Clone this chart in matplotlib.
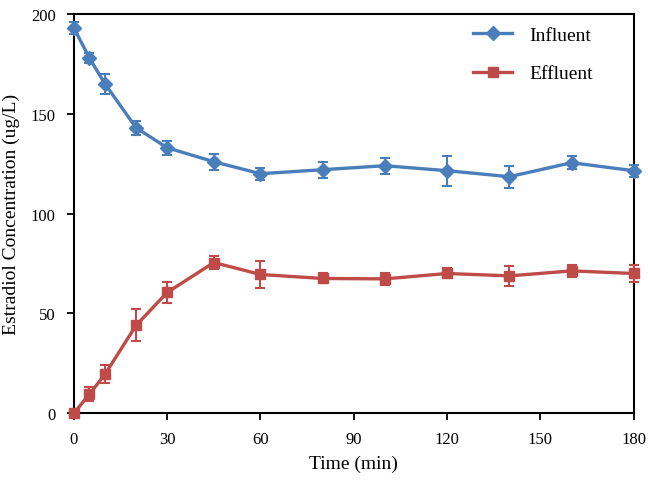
import matplotlib
matplotlib.use("Agg")
import matplotlib.pyplot as plt
from matplotlib.lines import Line2D

time_min = [0, 5, 10, 20, 30, 45, 60, 80, 100, 120, 140, 160, 180]
influent = [193, 178, 165, 143, 133, 126, 120, 122, 124, 121.5, 118.5, 125.5, 121.5]
influent_err = [3, 2.5, 5, 3.5, 3.5, 4, 3, 4, 4, 7.5, 5.5, 3.3, 3]
effluent = [0, 9.5, 19.5, 44, 60.5, 75.5, 69.5, 67.5, 67.3, 70, 68.8, 71.3, 70]
effluent_err = [1, 3.5, 4.5, 8, 5.4, 3.3, 6.8, 2.5, 3, 2.5, 5, 3, 4.5]
x_ticks = [0, 30, 60, 90, 120, 150, 180]
y_ticks = [0, 50, 100, 150, 200]

plt.rcParams['font.family'] = ['Liberation Serif', 'DejaVu Serif']

fig = plt.figure(figsize=(6.48, 4.85), dpi=100)
ax = fig.add_axes([0.114, 0.146, 0.864, 0.823])

blue = '#4A7EBB'
red = '#BE4B48'

ax.errorbar(time_min, influent, yerr=influent_err, color=blue, marker='D',
            markersize=7, linewidth=2.4, elinewidth=1.5, capsize=3.5, capthick=1.5,
            clip_on=False, zorder=3)
ax.errorbar(time_min, effluent, yerr=effluent_err, color=red, marker='s',
            markersize=7.5, linewidth=2.4, elinewidth=1.5, capsize=3.5, capthick=1.5,
            clip_on=False, zorder=3)

ax.set_xlim(0, 180)
ax.set_ylim(0, 200)
ax.set_xticks(x_ticks)
ax.set_yticks(y_ticks)
ax.tick_params(direction='out', length=5, width=1.3, labelsize=12, pad=8)
for s in ax.spines.values():
    s.set_linewidth(1.5)
    s.set_color('black')

ax.set_xlabel('Time (min)', fontsize=14, labelpad=5)
ax.set_ylabel('Estradiol Concentration (ug/L)', fontsize=14, labelpad=8)

handles = [
    Line2D([], [], color=blue, marker='D', markersize=7, linewidth=2.4),
    Line2D([], [], color=red, marker='s', markersize=7.5, linewidth=2.4),
]
leg = ax.legend(handles, ['Influent', 'Effluent'], loc='upper right', frameon=False,
                fontsize=14, handlelength=2.0, labelspacing=1.05, borderaxespad=0.25,
                handletextpad=0.9, bbox_to_anchor=(0.95, 1.0))

fig.savefig('out.png', dpi=100)
